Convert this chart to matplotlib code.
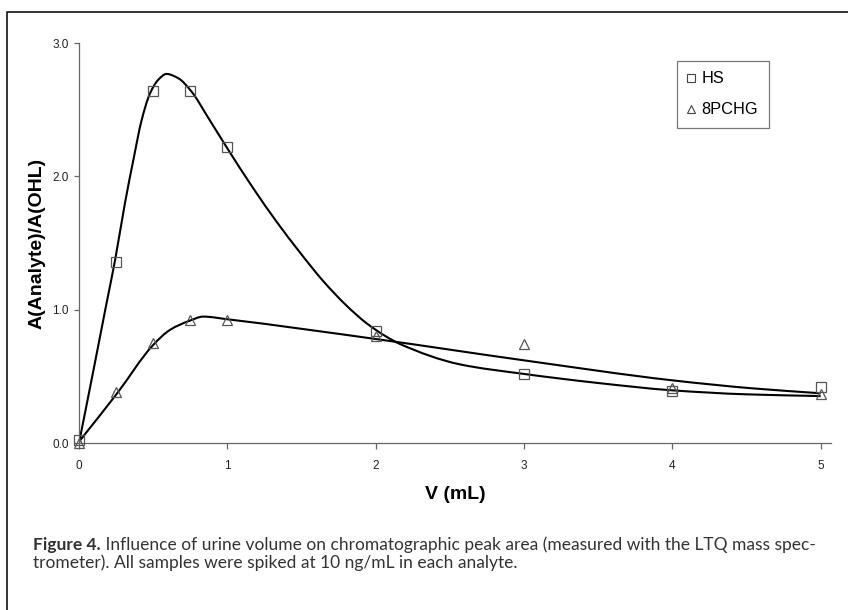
import numpy as np
import matplotlib
matplotlib.use('Agg')
import matplotlib.pyplot as plt
from matplotlib.path import Path
from matplotlib.patches import PathPatch
from matplotlib.lines import Line2D

# measured points
volume = [0, 0.25, 0.5, 0.75, 1, 2, 3, 4, 5]
hs_ratio = [0.02, 1.36, 2.64, 2.64, 2.22, 0.84, 0.52, 0.39, 0.42]
pchg_ratio = [0.0, 0.38, 0.75, 0.92, 0.92, 0.80, 0.74, 0.41, 0.37]

# fitted curves
hs_fit_x = [0, 0.1, 0.186, 0.243, 0.31, 0.366, 0.422, 0.478, 0.535, 0.59, 0.669,
            0.759, 0.871, 1.0, 1.175, 1.332, 1.489, 1.646, 1.804, 1.939, 2.073,
            2.163, 2.567, 3.0, 3.5, 4.0, 4.5, 5.0]
hs_fit_y = [0, 0.56, 1.05, 1.37, 1.80, 2.12, 2.42, 2.62, 2.725, 2.768, 2.736,
            2.635, 2.44, 2.21, 1.91, 1.66, 1.43, 1.215, 1.03, 0.898, 0.797,
            0.743, 0.59, 0.518, 0.45, 0.395, 0.365, 0.352]
pchg_fit_x = [0, 0.254, 0.5, 0.613, 0.748, 0.838, 1.0, 2.0, 3.0, 4.0, 4.54, 5.0]
pchg_fit_y = [0.01, 0.368, 0.735, 0.848, 0.918, 0.948, 0.928, 0.78, 0.62, 0.47,
              0.41, 0.373]

xticks = [0, 1, 2, 3, 4, 5]
yticks = [0.0, 1.0, 2.0, 3.0]

caption_bold = 'Figure 4.'
caption_line1 = ' Influence of urine volume on chromatographic peak area (measured with the LTQ mass spec-'
caption_line2 = 'trometer). All samples were spiked at 10 ng/mL in each analyte.'


def smooth_path(x, y):
    # monotone cubic Hermite through the read points, as Bezier pieces
    x = np.asarray(x, float)
    y = np.asarray(y, float)
    h = np.diff(x)
    d = np.diff(y) / h
    m = np.zeros_like(y)
    m[0], m[-1] = d[0], d[-1]
    for i in range(1, len(x) - 1):
        if d[i - 1] * d[i] > 0:
            w1 = 2 * h[i] + h[i - 1]
            w2 = h[i] + 2 * h[i - 1]
            m[i] = (w1 + w2) / (w1 / d[i - 1] + w2 / d[i])
    verts = [(x[0], y[0])]
    codes = [Path.MOVETO]
    for i in range(len(x) - 1):
        verts += [(x[i] + h[i] / 3, y[i] + m[i] * h[i] / 3),
                  (x[i + 1] - h[i] / 3, y[i + 1] - m[i + 1] * h[i] / 3),
                  (x[i + 1], y[i + 1])]
        codes += [Path.CURVE4] * 3
    return Path(verts, codes)


plt.rcParams['font.family'] = ['Liberation Sans', 'DejaVu Sans']

W, H = 848, 610
fig = plt.figure(figsize=(W / 100, H / 100), dpi=100)
ax = fig.add_axes([79 / W, 1 - 443 / H, 752 / W, 400 / H])

for xs, ys in [(hs_fit_x, hs_fit_y), (pchg_fit_x, pchg_fit_y)]:
    ax.add_patch(PathPatch(smooth_path(xs, ys), facecolor='none', edgecolor='black',
                           linewidth=1.5, zorder=2))

mk = dict(linestyle='none', markerfacecolor='none', markeredgecolor='#555555',
          markeredgewidth=0.9, clip_on=False, zorder=3)
ax.plot(volume, hs_ratio, marker='s', markersize=6.5, **mk)
ax.plot(volume, pchg_ratio, marker='^', markersize=7, **mk)

ax.set_xlim(0, 5.07)
ax.set_ylim(0, 3.0)
ax.set_xticks(xticks)
ax.set_xticklabels([str(t) for t in xticks])
ax.set_yticks(yticks)
ax.set_yticklabels(['%.1f' % t for t in yticks])

for s in ['top', 'right']:
    ax.spines[s].set_visible(False)
for s in ['left', 'bottom']:
    ax.spines[s].set_color('#666666')
    ax.spines[s].set_linewidth(0.9)
ax.tick_params(axis='both', colors='#666666', labelcolor='#222222', labelsize=8.5,
               width=0.9)
ax.tick_params(axis='x', length=4, pad=8)
ax.tick_params(axis='y', length=3.5, pad=4)

ax.set_xlabel('V (mL)', fontsize=14, fontweight='bold', labelpad=10)
fig.text(37 / W, 1 - 243 / H, 'A(Analyte)/A(OHL)', rotation=90, fontsize=14,
         fontweight='bold', ha='center', va='center')

handles = [Line2D([], [], marker='s', markersize=6, linestyle='none',
                  markerfacecolor='none', markeredgecolor='#444444', markeredgewidth=0.8),
           Line2D([], [], marker='^', markersize=6, linestyle='none',
                  markerfacecolor='none', markeredgecolor='#444444', markeredgewidth=0.8)]
leg = fig.legend(handles, ['HS', '8PCHG'], loc='upper left',
                 bbox_to_anchor=(677 / W, 1 - 61 / H), fontsize=11.8, frameon=True,
                 fancybox=False, edgecolor='#555555', handlelength=0.5,
                 handletextpad=0.37, labelspacing=0.98, borderpad=0.63,
                 borderaxespad=0)
leg.get_frame().set_linewidth(0.9)

# outer frame (only top and left edges are inside the picture)
fig.add_artist(Line2D([7 / W, 7 / W, 1.0], [0.0, 1 - 12 / H, 1 - 12 / H],
                      transform=fig.transFigure, color='#222222', linewidth=1.3))

# caption, sized so the first line spans the same width as in the print
cap_font = ['Lato', 'DejaVu Sans']
cap_left, cap_right = 33, 811
t1 = fig.text(cap_left / W, 1 - 550 / H, caption_bold, fontsize=11, fontweight='bold',
              family=cap_font, color='#333333', va='baseline')
t2 = fig.text(0, 1 - 550 / H, caption_line1, fontsize=11, family=cap_font,
              color='#333333', va='baseline')
t3 = fig.text(cap_left / W, 1 - 568 / H, caption_line2, fontsize=11, family=cap_font,
              color='#333333', va='baseline')
r = fig.canvas.get_renderer()
wid = t1.get_window_extent(r).width + t2.get_window_extent(r).width
size = 11 * (cap_right - cap_left) / wid
for t in (t1, t2, t3):
    t.set_fontsize(size)
t2.set_x(t1.get_window_extent(r).x1 / W)

fig.savefig('out.png', dpi=100)
